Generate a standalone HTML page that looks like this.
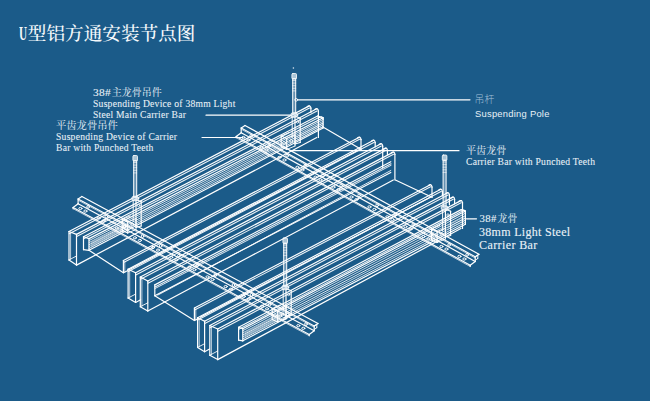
<!DOCTYPE html>
<html><head><meta charset="utf-8"><title>U型铝方通安装节点图</title>
<style>
html,body{margin:0;padding:0;background:#1b5b89;}
body{width:650px;height:401px;position:relative;overflow:hidden;font-family:"Liberation Serif","Noto Serif CJK SC",serif;}
.t,.s,.a{position:absolute;white-space:nowrap;color:#e9f1f7;}
.t{font-family:"Liberation Serif","Noto Serif CJK SC",serif;}
.s{font-family:"Liberation Serif","Noto Serif CJK SC",serif;font-size:10px;line-height:13px;}
.u{display:inline-block;width:9.2px;transform:scaleX(0.6);transform-origin:0 50%;letter-spacing:0;font-weight:bold}
.n{letter-spacing:0.3px;margin-right:0.8px;-webkit-text-stroke:0.1px #e9f1f7}
.e{font-size:9.6px;letter-spacing:0.25px;-webkit-text-stroke:0.08px #e9f1f7}
.a{font-family:"Liberation Sans","Noto Sans CJK SC",sans-serif;font-size:9.4px;line-height:13px;letter-spacing:0.25px}
svg{position:absolute;left:0;top:0}
</style></head><body>
<svg width="650" height="401" viewBox="0 0 650 401" fill="none" stroke="#ffffff" stroke-width="1.0" stroke-linecap="round">
<line x1="69.0" y1="231.5" x2="69.0" y2="259.9" stroke-width="1.2"/>
<line x1="69.0" y1="231.5" x2="309.3" y2="105.9" stroke-width="1.2"/>
<line x1="69.2" y1="233.7" x2="309.5" y2="108.1" stroke-width="1.08" stroke-opacity="0.92"/>
<line x1="76.5" y1="234.4" x2="76.5" y2="265.1" stroke-width="1.2"/>
<line x1="76.5" y1="234.4" x2="316.8" y2="108.8" stroke-width="1.2"/>
<line x1="76.7" y1="236.6" x2="317.0" y2="111.0" stroke-width="1.08" stroke-opacity="0.92"/>
<line x1="76.5" y1="265.1" x2="316.8" y2="137.5" stroke-width="1.2"/>
<line x1="128.1" y1="269.2" x2="128.1" y2="298.0" stroke-width="1.2"/>
<line x1="128.1" y1="269.2" x2="373.6" y2="140.3" stroke-width="1.2"/>
<line x1="128.3" y1="271.4" x2="373.8" y2="142.5" stroke-width="1.08" stroke-opacity="0.92"/>
<line x1="135.6" y1="272.7" x2="135.6" y2="302.4" stroke-width="1.2"/>
<line x1="135.6" y1="272.7" x2="381.1" y2="143.8" stroke-width="1.2"/>
<line x1="135.8" y1="274.9" x2="381.3" y2="146.0" stroke-width="1.08" stroke-opacity="0.92"/>
<line x1="140.3" y1="277.0" x2="140.3" y2="306.7" stroke-width="1.2"/>
<line x1="140.3" y1="277.0" x2="385.8" y2="148.1" stroke-width="1.2"/>
<line x1="140.5" y1="279.2" x2="386.0" y2="150.3" stroke-width="1.08" stroke-opacity="0.92"/>
<line x1="147.8" y1="281.0" x2="147.8" y2="311.0" stroke-width="1.2"/>
<line x1="147.8" y1="281.0" x2="393.3" y2="152.1" stroke-width="1.2"/>
<line x1="148.0" y1="283.2" x2="393.5" y2="154.3" stroke-width="1.08" stroke-opacity="0.92"/>
<line x1="147.8" y1="311.0" x2="393.3" y2="180.0" stroke-width="1.2"/>
<line x1="197.6" y1="317.7" x2="197.6" y2="347.4" stroke-width="1.2"/>
<line x1="197.6" y1="317.7" x2="440.8" y2="189.3" stroke-width="1.2"/>
<line x1="197.8" y1="319.9" x2="441.0" y2="191.5" stroke-width="1.08" stroke-opacity="0.92"/>
<line x1="204.6" y1="321.2" x2="204.6" y2="351.7" stroke-width="1.2"/>
<line x1="204.6" y1="321.2" x2="447.8" y2="192.8" stroke-width="1.2"/>
<line x1="204.8" y1="323.4" x2="448.0" y2="195.0" stroke-width="1.08" stroke-opacity="0.92"/>
<line x1="209.8" y1="325.5" x2="209.8" y2="355.2" stroke-width="1.2"/>
<line x1="209.8" y1="325.5" x2="453.0" y2="197.1" stroke-width="1.2"/>
<line x1="210.0" y1="327.7" x2="453.2" y2="199.3" stroke-width="1.08" stroke-opacity="0.92"/>
<line x1="217.7" y1="329.0" x2="217.7" y2="359.6" stroke-width="1.2"/>
<line x1="217.7" y1="329.0" x2="460.9" y2="200.6" stroke-width="1.2"/>
<line x1="217.9" y1="331.2" x2="461.1" y2="202.8" stroke-width="1.08" stroke-opacity="0.92"/>
<line x1="217.7" y1="359.6" x2="460.9" y2="228.5" stroke-width="1.2"/>
<line x1="69.0" y1="259.9" x2="76.5" y2="265.1" stroke-width="1.2"/>
<line x1="69.0" y1="231.5" x2="76.5" y2="234.4" stroke-width="1.2"/>
<line x1="70.6" y1="233.1" x2="70.6" y2="259.5" stroke-width="0.84" stroke-opacity="0.85"/>
<line x1="69.0" y1="259.9" x2="76.5" y2="256.0" stroke-width="0.96" stroke-opacity="0.9"/>
<line x1="318.4" y1="110.8" x2="318.4" y2="137.5" stroke-width="1.2"/>
<line x1="310.9" y1="107.9" x2="310.9" y2="112.4" stroke-width="1.2"/>
<line x1="128.1" y1="298.0" x2="135.6" y2="302.4" stroke-width="1.2"/>
<line x1="128.1" y1="269.2" x2="135.6" y2="272.7" stroke-width="1.2"/>
<line x1="129.7" y1="270.8" x2="129.7" y2="297.6" stroke-width="0.84" stroke-opacity="0.85"/>
<line x1="128.1" y1="298.0" x2="135.6" y2="294.1" stroke-width="0.96" stroke-opacity="0.9"/>
<line x1="135.6" y1="302.4" x2="140.6" y2="299.8" stroke-width="1.08"/>
<line x1="382.7" y1="145.8" x2="382.7" y2="167.8" stroke-width="1.2"/>
<line x1="375.2" y1="142.3" x2="375.2" y2="146.8" stroke-width="1.2"/>
<line x1="140.3" y1="306.7" x2="147.8" y2="311.0" stroke-width="1.2"/>
<line x1="140.3" y1="277.0" x2="147.8" y2="281.0" stroke-width="1.2"/>
<line x1="141.9" y1="278.6" x2="141.9" y2="306.3" stroke-width="0.84" stroke-opacity="0.85"/>
<line x1="140.3" y1="306.7" x2="147.8" y2="302.8" stroke-width="0.96" stroke-opacity="0.9"/>
<line x1="394.9" y1="154.1" x2="394.9" y2="180.0" stroke-width="1.2"/>
<line x1="387.4" y1="150.1" x2="387.4" y2="154.6" stroke-width="1.2"/>
<line x1="197.6" y1="347.4" x2="204.6" y2="351.7" stroke-width="1.2"/>
<line x1="197.6" y1="317.7" x2="204.6" y2="321.2" stroke-width="1.2"/>
<line x1="199.2" y1="319.3" x2="199.2" y2="347.0" stroke-width="0.84" stroke-opacity="0.85"/>
<line x1="197.6" y1="347.4" x2="204.6" y2="343.7" stroke-width="0.96" stroke-opacity="0.9"/>
<line x1="204.6" y1="351.7" x2="209.6" y2="349.1" stroke-width="1.08"/>
<line x1="449.4" y1="194.8" x2="449.4" y2="204.8" stroke-width="1.2"/>
<line x1="442.4" y1="191.3" x2="442.4" y2="195.8" stroke-width="1.2"/>
<line x1="209.8" y1="355.2" x2="217.7" y2="359.6" stroke-width="1.2"/>
<line x1="209.8" y1="325.5" x2="217.7" y2="329.0" stroke-width="1.2"/>
<line x1="211.4" y1="327.1" x2="211.4" y2="354.8" stroke-width="0.84" stroke-opacity="0.85"/>
<line x1="209.8" y1="355.2" x2="217.7" y2="351.0" stroke-width="0.96" stroke-opacity="0.9"/>
<line x1="462.5" y1="202.6" x2="462.5" y2="228.5" stroke-width="1.2"/>
<line x1="454.6" y1="199.1" x2="454.6" y2="203.6" stroke-width="1.2"/>
<line x1="123.4" y1="260.5" x2="123.4" y2="272.7" stroke-width="1.2"/>
<line x1="124.8" y1="261.3" x2="124.8" y2="272.4" stroke-width="0.84" stroke-opacity="0.85"/>
<line x1="89.0" y1="250.3" x2="123.4" y2="272.7" stroke-width="1.2"/>
<line x1="123.4" y1="260.5" x2="359.4" y2="137.3" stroke-width="1.2"/>
<line x1="123.6" y1="262.5" x2="359.6" y2="139.3" stroke-width="1.08" stroke-opacity="0.92"/>
<line x1="123.4" y1="272.7" x2="127.9" y2="270.4" stroke-width="1.08"/>
<line x1="129.4" y1="269.5" x2="359.4" y2="149.5" stroke-width="1.2"/>
<line x1="361.0" y1="139.3" x2="361.0" y2="149.5" stroke-width="1.2"/>
<line x1="194.4" y1="308.0" x2="194.4" y2="320.5" stroke-width="1.2"/>
<line x1="195.8" y1="308.8" x2="195.8" y2="320.2" stroke-width="0.84" stroke-opacity="0.85"/>
<line x1="154.8" y1="295.7" x2="194.4" y2="320.5" stroke-width="1.2"/>
<line x1="194.4" y1="308.0" x2="430.4" y2="184.8" stroke-width="1.2"/>
<line x1="194.6" y1="310.0" x2="430.6" y2="186.8" stroke-width="1.08" stroke-opacity="0.92"/>
<line x1="194.4" y1="320.5" x2="198.9" y2="318.2" stroke-width="1.08"/>
<line x1="200.4" y1="317.3" x2="430.4" y2="197.3" stroke-width="1.2"/>
<line x1="154.8" y1="284.9" x2="154.8" y2="295.7" stroke-width="1.2"/>
<line x1="154.8" y1="284.9" x2="390.8" y2="161.7" stroke-width="1.2"/>
<line x1="155.0" y1="286.9" x2="391.0" y2="163.7" stroke-width="1.08" stroke-opacity="0.92"/>
<line x1="155.1" y1="288.5" x2="391.1" y2="165.3" stroke-width="0.96" stroke-opacity="0.9"/>
<line x1="154.8" y1="295.7" x2="390.8" y2="172.5" stroke-width="1.2"/>
<line x1="157.8" y1="295.1" x2="390.8" y2="170.5" stroke-width="0.96" stroke-opacity="0.9"/>
<line x1="432.0" y1="186.8" x2="432.0" y2="197.3" stroke-width="1.2"/>
<line x1="322.5" y1="126.8" x2="361.0" y2="149.3" stroke-width="1.2"/>
<line x1="395.4" y1="180.0" x2="432.0" y2="197.2" stroke-width="1.2"/>
<line x1="83.5" y1="236.8" x2="83.5" y2="249.7" stroke-width="1.2"/>
<line x1="83.5" y1="249.7" x2="89.0" y2="250.3" stroke-width="1.2"/>
<line x1="89.0" y1="250.3" x2="89.0" y2="238.6" stroke-width="1.2"/>
<line x1="89.0" y1="238.6" x2="83.5" y2="236.8" stroke-width="1.2"/>
<line x1="83.5" y1="236.8" x2="317.6" y2="116.0" stroke-width="1.2"/>
<line x1="83.7" y1="238.8" x2="317.8" y2="117.9" stroke-width="1.08" stroke-opacity="0.92"/>
<line x1="89.0" y1="238.6" x2="323.1" y2="117.8" stroke-width="1.2"/>
<line x1="89.0" y1="250.3" x2="323.1" y2="128.0" stroke-width="1.2"/>
<line x1="89.0" y1="240.6" x2="323.1" y2="119.5" stroke-width="0.96" stroke-opacity="0.9"/>
<line x1="89.0" y1="242.6" x2="323.1" y2="121.3" stroke-width="0.84" stroke-opacity="0.85"/>
<line x1="89.0" y1="244.7" x2="323.1" y2="123.1" stroke-width="0.96" stroke-opacity="0.9"/>
<line x1="89.0" y1="246.6" x2="323.1" y2="124.7" stroke-width="0.84" stroke-opacity="0.85"/>
<line x1="89.0" y1="248.5" x2="323.1" y2="126.5" stroke-width="0.96" stroke-opacity="0.9"/>
<line x1="91.3" y1="242.4" x2="126.5" y2="224.3" stroke-width="0.78" stroke-opacity="0.65"/>
<line x1="295.0" y1="137.3" x2="323.1" y2="122.8" stroke-width="0.78" stroke-opacity="0.65"/>
<line x1="91.3" y1="244.4" x2="126.5" y2="226.3" stroke-width="0.78" stroke-opacity="0.65"/>
<line x1="295.0" y1="139.3" x2="323.1" y2="124.8" stroke-width="0.78" stroke-opacity="0.65"/>
<line x1="91.3" y1="246.4" x2="126.5" y2="228.3" stroke-width="0.78" stroke-opacity="0.65"/>
<line x1="295.0" y1="141.3" x2="323.1" y2="126.8" stroke-width="0.78" stroke-opacity="0.65"/>
<line x1="317.6" y1="116.0" x2="323.1" y2="117.8" stroke-width="1.2"/>
<line x1="323.1" y1="117.8" x2="323.1" y2="128.0" stroke-width="1.2"/>
<line x1="238.6" y1="327.3" x2="238.6" y2="340.2" stroke-width="1.2"/>
<line x1="238.6" y1="340.2" x2="242.8" y2="340.8" stroke-width="1.2"/>
<line x1="242.8" y1="340.8" x2="242.8" y2="328.7" stroke-width="1.2"/>
<line x1="242.8" y1="328.7" x2="238.6" y2="327.3" stroke-width="1.2"/>
<line x1="238.6" y1="327.3" x2="461.2" y2="209.6" stroke-width="1.2"/>
<line x1="238.8" y1="329.3" x2="461.4" y2="211.5" stroke-width="1.08" stroke-opacity="0.92"/>
<line x1="242.8" y1="328.7" x2="465.4" y2="211.0" stroke-width="1.2"/>
<line x1="242.8" y1="340.8" x2="465.4" y2="224.3" stroke-width="1.2"/>
<line x1="242.8" y1="330.7" x2="465.4" y2="213.2" stroke-width="0.96" stroke-opacity="0.9"/>
<line x1="242.8" y1="332.8" x2="465.4" y2="215.5" stroke-width="0.84" stroke-opacity="0.85"/>
<line x1="242.8" y1="335.0" x2="465.4" y2="217.9" stroke-width="0.96" stroke-opacity="0.9"/>
<line x1="242.8" y1="336.9" x2="465.4" y2="220.0" stroke-width="0.84" stroke-opacity="0.85"/>
<line x1="242.8" y1="339.0" x2="465.4" y2="222.3" stroke-width="0.96" stroke-opacity="0.9"/>
<line x1="245.0" y1="332.7" x2="278.4" y2="315.1" stroke-width="0.78" stroke-opacity="0.65"/>
<line x1="447.6" y1="225.6" x2="465.4" y2="216.2" stroke-width="0.78" stroke-opacity="0.65"/>
<line x1="245.0" y1="334.8" x2="278.4" y2="317.1" stroke-width="0.78" stroke-opacity="0.65"/>
<line x1="447.6" y1="227.7" x2="465.4" y2="218.3" stroke-width="0.78" stroke-opacity="0.65"/>
<line x1="245.0" y1="336.8" x2="278.4" y2="319.2" stroke-width="0.78" stroke-opacity="0.65"/>
<line x1="447.6" y1="229.7" x2="465.4" y2="220.3" stroke-width="0.78" stroke-opacity="0.65"/>
<line x1="461.2" y1="209.6" x2="465.4" y2="211.0" stroke-width="1.2"/>
<line x1="465.4" y1="211.0" x2="465.4" y2="224.3" stroke-width="1.2"/>
<line x1="81.9" y1="196.5" x2="318.0" y2="323.5" stroke-width="1.2"/>
<line x1="78.1" y1="199.0" x2="314.2" y2="326.0" stroke-width="1.2"/>
<line x1="78.1" y1="203.7" x2="314.2" y2="330.7" stroke-width="1.2"/>
<line x1="73.1" y1="207.5" x2="309.2" y2="334.5" stroke-width="1.2"/>
<line x1="78.1" y1="200.2" x2="314.2" y2="327.2" stroke-width="0.84" stroke-opacity="0.8"/>
<line x1="73.1" y1="208.7" x2="309.2" y2="335.7" stroke-width="0.84" stroke-opacity="0.8"/>
<line x1="81.9" y1="196.5" x2="78.1" y2="199.0" stroke-width="1.2"/>
<line x1="78.1" y1="199.0" x2="78.1" y2="203.7" stroke-width="1.2"/>
<line x1="78.1" y1="203.7" x2="73.1" y2="207.5" stroke-width="1.2"/>
<line x1="73.1" y1="207.5" x2="73.1" y2="208.7" stroke-width="1.2"/>
<line x1="318.0" y1="323.5" x2="314.2" y2="326.0" stroke-width="1.2"/>
<line x1="314.2" y1="326.0" x2="314.2" y2="330.7" stroke-width="1.2"/>
<line x1="314.2" y1="330.7" x2="309.2" y2="334.5" stroke-width="1.2"/>
<line x1="309.2" y1="334.5" x2="309.2" y2="335.7" stroke-width="1.2"/>
<line x1="314.2" y1="326.0" x2="316.8" y2="324.4" stroke-width="0.96"/>
<line x1="316.8" y1="324.4" x2="316.8" y2="327.7" stroke-width="0.96"/>
<line x1="316.8" y1="327.7" x2="314.2" y2="329.5" stroke-width="0.96"/>
<line x1="245.0" y1="125.5" x2="479.0" y2="254.3" stroke-width="1.2"/>
<line x1="241.2" y1="128.0" x2="475.2" y2="256.8" stroke-width="1.2"/>
<line x1="241.2" y1="132.7" x2="475.2" y2="261.5" stroke-width="1.2"/>
<line x1="236.2" y1="136.5" x2="470.2" y2="265.3" stroke-width="1.2"/>
<line x1="241.2" y1="129.2" x2="475.2" y2="258.0" stroke-width="0.84" stroke-opacity="0.8"/>
<line x1="236.2" y1="137.7" x2="470.2" y2="266.5" stroke-width="0.84" stroke-opacity="0.8"/>
<line x1="245.0" y1="125.5" x2="241.2" y2="128.0" stroke-width="1.2"/>
<line x1="241.2" y1="128.0" x2="241.2" y2="132.7" stroke-width="1.2"/>
<line x1="241.2" y1="132.7" x2="236.2" y2="136.5" stroke-width="1.2"/>
<line x1="236.2" y1="136.5" x2="236.2" y2="137.7" stroke-width="1.2"/>
<line x1="479.0" y1="254.3" x2="475.2" y2="256.8" stroke-width="1.2"/>
<line x1="475.2" y1="256.8" x2="475.2" y2="261.5" stroke-width="1.2"/>
<line x1="475.2" y1="261.5" x2="470.2" y2="265.3" stroke-width="1.2"/>
<line x1="470.2" y1="265.3" x2="470.2" y2="266.5" stroke-width="1.2"/>
<line x1="475.2" y1="256.8" x2="477.8" y2="255.2" stroke-width="0.96"/>
<line x1="477.8" y1="255.2" x2="477.8" y2="258.5" stroke-width="0.96"/>
<line x1="477.8" y1="258.5" x2="475.2" y2="260.3" stroke-width="0.96"/>
<line x1="133.7" y1="162.5" x2="136.7" y2="162.5" stroke-width="0.72" stroke-opacity="0.9"/>
<line x1="133.7" y1="165.1" x2="136.7" y2="165.1" stroke-width="0.72" stroke-opacity="0.9"/>
<line x1="133.7" y1="167.7" x2="136.7" y2="167.7" stroke-width="0.72" stroke-opacity="0.9"/>
<line x1="133.7" y1="170.3" x2="136.7" y2="170.3" stroke-width="0.72" stroke-opacity="0.9"/>
<line x1="133.7" y1="172.9" x2="136.7" y2="172.9" stroke-width="0.72" stroke-opacity="0.9"/>
<line x1="136.0" y1="199.5" x2="141.2" y2="201.7" stroke-width="1.2"/>
<line x1="141.2" y1="201.7" x2="141.2" y2="226.0" stroke-width="1.2"/>
<line x1="141.2" y1="226.0" x2="136.0" y2="227.5" stroke-width="1.2"/>
<line x1="136.0" y1="227.5" x2="136.0" y2="199.5" stroke-width="1.2"/>
<line x1="133.2" y1="200.5" x2="133.2" y2="221.5" stroke-width="0.96"/>
<line x1="122.2" y1="219.5" x2="122.2" y2="230.5" stroke-width="1.2"/>
<line x1="122.2" y1="230.5" x2="127.7" y2="233.0" stroke-width="1.2"/>
<line x1="127.7" y1="233.0" x2="127.7" y2="222.0" stroke-width="1.2"/>
<line x1="127.7" y1="222.0" x2="122.2" y2="219.5" stroke-width="1.2"/>
<line x1="127.7" y1="222.0" x2="136.0" y2="218.5" stroke-width="0.96"/>
<line x1="136.0" y1="218.5" x2="136.0" y2="229.5" stroke-width="0.96"/>
<line x1="136.0" y1="229.5" x2="127.7" y2="233.0" stroke-width="0.96"/>
<line x1="122.2" y1="219.5" x2="130.2" y2="216.0" stroke-width="0.96"/>
<line x1="292.7" y1="80.5" x2="295.7" y2="80.5" stroke-width="0.72" stroke-opacity="0.9"/>
<line x1="292.7" y1="83.1" x2="295.7" y2="83.1" stroke-width="0.72" stroke-opacity="0.9"/>
<line x1="292.7" y1="85.7" x2="295.7" y2="85.7" stroke-width="0.72" stroke-opacity="0.9"/>
<line x1="292.7" y1="88.3" x2="295.7" y2="88.3" stroke-width="0.72" stroke-opacity="0.9"/>
<line x1="292.7" y1="90.9" x2="295.7" y2="90.9" stroke-width="0.72" stroke-opacity="0.9"/>
<line x1="295.0" y1="116.0" x2="300.2" y2="118.2" stroke-width="1.2"/>
<line x1="300.2" y1="118.2" x2="300.2" y2="142.5" stroke-width="1.2"/>
<line x1="300.2" y1="142.5" x2="295.0" y2="144.0" stroke-width="1.2"/>
<line x1="295.0" y1="144.0" x2="295.0" y2="116.0" stroke-width="1.2"/>
<line x1="292.2" y1="117.0" x2="292.2" y2="138.0" stroke-width="0.96"/>
<line x1="281.2" y1="136.0" x2="281.2" y2="147.0" stroke-width="1.2"/>
<line x1="281.2" y1="147.0" x2="286.7" y2="149.5" stroke-width="1.2"/>
<line x1="286.7" y1="149.5" x2="286.7" y2="138.5" stroke-width="1.2"/>
<line x1="286.7" y1="138.5" x2="281.2" y2="136.0" stroke-width="1.2"/>
<line x1="286.7" y1="138.5" x2="295.0" y2="135.0" stroke-width="0.96"/>
<line x1="295.0" y1="135.0" x2="295.0" y2="146.0" stroke-width="0.96"/>
<line x1="295.0" y1="146.0" x2="286.7" y2="149.5" stroke-width="0.96"/>
<line x1="281.2" y1="136.0" x2="289.2" y2="132.5" stroke-width="0.96"/>
<line x1="443.1" y1="162.0" x2="446.1" y2="162.0" stroke-width="0.72" stroke-opacity="0.9"/>
<line x1="443.1" y1="164.6" x2="446.1" y2="164.6" stroke-width="0.72" stroke-opacity="0.9"/>
<line x1="443.1" y1="167.2" x2="446.1" y2="167.2" stroke-width="0.72" stroke-opacity="0.9"/>
<line x1="443.1" y1="169.8" x2="446.1" y2="169.8" stroke-width="0.72" stroke-opacity="0.9"/>
<line x1="443.1" y1="172.4" x2="446.1" y2="172.4" stroke-width="0.72" stroke-opacity="0.9"/>
<line x1="445.4" y1="209.0" x2="450.6" y2="211.2" stroke-width="1.2"/>
<line x1="450.6" y1="211.2" x2="450.6" y2="235.5" stroke-width="1.2"/>
<line x1="450.6" y1="235.5" x2="445.4" y2="237.0" stroke-width="1.2"/>
<line x1="445.4" y1="237.0" x2="445.4" y2="209.0" stroke-width="1.2"/>
<line x1="442.6" y1="210.0" x2="442.6" y2="231.0" stroke-width="0.96"/>
<line x1="431.6" y1="229.0" x2="431.6" y2="240.0" stroke-width="1.2"/>
<line x1="431.6" y1="240.0" x2="437.1" y2="242.5" stroke-width="1.2"/>
<line x1="437.1" y1="242.5" x2="437.1" y2="231.5" stroke-width="1.2"/>
<line x1="437.1" y1="231.5" x2="431.6" y2="229.0" stroke-width="1.2"/>
<line x1="437.1" y1="231.5" x2="445.4" y2="228.0" stroke-width="0.96"/>
<line x1="445.4" y1="228.0" x2="445.4" y2="239.0" stroke-width="0.96"/>
<line x1="445.4" y1="239.0" x2="437.1" y2="242.5" stroke-width="0.96"/>
<line x1="431.6" y1="229.0" x2="439.6" y2="225.5" stroke-width="0.96"/>
<line x1="283.7" y1="245.0" x2="286.7" y2="245.0" stroke-width="0.72" stroke-opacity="0.9"/>
<line x1="283.7" y1="247.6" x2="286.7" y2="247.6" stroke-width="0.72" stroke-opacity="0.9"/>
<line x1="283.7" y1="250.2" x2="286.7" y2="250.2" stroke-width="0.72" stroke-opacity="0.9"/>
<line x1="283.7" y1="252.8" x2="286.7" y2="252.8" stroke-width="0.72" stroke-opacity="0.9"/>
<line x1="283.7" y1="255.4" x2="286.7" y2="255.4" stroke-width="0.72" stroke-opacity="0.9"/>
<line x1="286.0" y1="288.5" x2="291.2" y2="290.7" stroke-width="1.2"/>
<line x1="291.2" y1="290.7" x2="291.2" y2="315.0" stroke-width="1.2"/>
<line x1="291.2" y1="315.0" x2="286.0" y2="316.5" stroke-width="1.2"/>
<line x1="286.0" y1="316.5" x2="286.0" y2="288.5" stroke-width="1.2"/>
<line x1="283.2" y1="289.5" x2="283.2" y2="310.5" stroke-width="0.96"/>
<line x1="272.2" y1="308.5" x2="272.2" y2="319.5" stroke-width="1.2"/>
<line x1="272.2" y1="319.5" x2="277.7" y2="322.0" stroke-width="1.2"/>
<line x1="277.7" y1="322.0" x2="277.7" y2="311.0" stroke-width="1.2"/>
<line x1="277.7" y1="311.0" x2="272.2" y2="308.5" stroke-width="1.2"/>
<line x1="277.7" y1="311.0" x2="286.0" y2="307.5" stroke-width="0.96"/>
<line x1="286.0" y1="307.5" x2="286.0" y2="318.5" stroke-width="0.96"/>
<line x1="286.0" y1="318.5" x2="277.7" y2="322.0" stroke-width="0.96"/>
<line x1="272.2" y1="308.5" x2="280.2" y2="305.0" stroke-width="0.96"/>
<line x1="206.0" y1="115.2" x2="290.0" y2="115.2" stroke-width="1.2"/>
<line x1="202.0" y1="137.5" x2="243.0" y2="137.5" stroke-width="1.2"/>
<line x1="297.5" y1="99.8" x2="470.0" y2="99.8" stroke-width="1.2"/>
<line x1="290.0" y1="150.7" x2="459.0" y2="150.7" stroke-width="1.2"/>
<line x1="466.5" y1="218.8" x2="476.5" y2="218.8" stroke-width="1.2"/>
<path d="M314.8 109.4 Q318.0 107.4 318.4 111.2" stroke-width="1.20"/>
<path d="M307.3 106.5 Q310.5 104.5 310.9 108.3" stroke-width="1.20"/>
<path d="M379.1 144.4 Q382.3 142.4 382.7 146.2" stroke-width="1.20"/>
<path d="M371.6 140.9 Q374.8 138.9 375.2 142.7" stroke-width="1.20"/>
<path d="M391.3 152.7 Q394.5 150.7 394.9 154.5" stroke-width="1.20"/>
<path d="M383.8 148.7 Q387.0 146.7 387.4 150.5" stroke-width="1.20"/>
<path d="M445.8 193.4 Q449.0 191.4 449.4 195.2" stroke-width="1.20"/>
<path d="M438.8 189.9 Q442.0 187.9 442.4 191.7" stroke-width="1.20"/>
<path d="M458.9 201.2 Q462.1 199.2 462.5 203.0" stroke-width="1.20"/>
<path d="M451.0 197.7 Q454.2 195.7 454.6 199.5" stroke-width="1.20"/>
<path d="M357.4 137.9 Q360.6 135.9 361.0 139.7" stroke-width="1.20"/>
<path d="M428.4 185.4 Q431.6 183.4 432.0 187.2" stroke-width="1.20"/>
<path d="M319.5 117.6 Q322.7 115.6 323.1 119.4" stroke-width="1.20"/>
<path d="M461.8 210.8 Q465.0 208.8 465.4 212.6" stroke-width="1.20"/>
<ellipse cx="88.1" cy="206.9" rx="1.3" ry="1.4" stroke-width="1.0"/>
<ellipse cx="80.4" cy="208.5" rx="1.6" ry="1.1" stroke-width="1.0"/>
<ellipse cx="85.4" cy="211.1" rx="1.6" ry="1.1" stroke-width="1.0"/>
<ellipse cx="106.3" cy="216.6" rx="1.3" ry="1.4" stroke-width="1.0"/>
<ellipse cx="98.6" cy="218.2" rx="1.6" ry="1.1" stroke-width="1.0"/>
<ellipse cx="103.6" cy="220.8" rx="1.6" ry="1.1" stroke-width="1.0"/>
<ellipse cx="124.4" cy="226.4" rx="1.3" ry="1.4" stroke-width="1.0"/>
<ellipse cx="116.7" cy="228.0" rx="1.6" ry="1.1" stroke-width="1.0"/>
<ellipse cx="121.7" cy="230.6" rx="1.6" ry="1.1" stroke-width="1.0"/>
<ellipse cx="142.6" cy="236.2" rx="1.3" ry="1.4" stroke-width="1.0"/>
<ellipse cx="134.9" cy="237.8" rx="1.6" ry="1.1" stroke-width="1.0"/>
<ellipse cx="139.9" cy="240.4" rx="1.6" ry="1.1" stroke-width="1.0"/>
<ellipse cx="160.7" cy="245.9" rx="1.3" ry="1.4" stroke-width="1.0"/>
<ellipse cx="153.0" cy="247.5" rx="1.6" ry="1.1" stroke-width="1.0"/>
<ellipse cx="158.0" cy="250.1" rx="1.6" ry="1.1" stroke-width="1.0"/>
<ellipse cx="178.9" cy="255.7" rx="1.3" ry="1.4" stroke-width="1.0"/>
<ellipse cx="171.2" cy="257.3" rx="1.6" ry="1.1" stroke-width="1.0"/>
<ellipse cx="176.2" cy="259.9" rx="1.6" ry="1.1" stroke-width="1.0"/>
<ellipse cx="197.1" cy="265.5" rx="1.3" ry="1.4" stroke-width="1.0"/>
<ellipse cx="189.4" cy="267.1" rx="1.6" ry="1.1" stroke-width="1.0"/>
<ellipse cx="194.4" cy="269.7" rx="1.6" ry="1.1" stroke-width="1.0"/>
<ellipse cx="215.2" cy="275.3" rx="1.3" ry="1.4" stroke-width="1.0"/>
<ellipse cx="207.5" cy="276.9" rx="1.6" ry="1.1" stroke-width="1.0"/>
<ellipse cx="212.5" cy="279.5" rx="1.6" ry="1.1" stroke-width="1.0"/>
<ellipse cx="233.4" cy="285.0" rx="1.3" ry="1.4" stroke-width="1.0"/>
<ellipse cx="225.7" cy="286.6" rx="1.6" ry="1.1" stroke-width="1.0"/>
<ellipse cx="230.7" cy="289.2" rx="1.6" ry="1.1" stroke-width="1.0"/>
<ellipse cx="251.5" cy="294.8" rx="1.3" ry="1.4" stroke-width="1.0"/>
<ellipse cx="243.8" cy="296.4" rx="1.6" ry="1.1" stroke-width="1.0"/>
<ellipse cx="248.8" cy="299.0" rx="1.6" ry="1.1" stroke-width="1.0"/>
<ellipse cx="269.7" cy="304.6" rx="1.3" ry="1.4" stroke-width="1.0"/>
<ellipse cx="262.0" cy="306.2" rx="1.6" ry="1.1" stroke-width="1.0"/>
<ellipse cx="267.0" cy="308.8" rx="1.6" ry="1.1" stroke-width="1.0"/>
<ellipse cx="287.9" cy="314.3" rx="1.3" ry="1.4" stroke-width="1.0"/>
<ellipse cx="280.2" cy="315.9" rx="1.6" ry="1.1" stroke-width="1.0"/>
<ellipse cx="285.2" cy="318.5" rx="1.6" ry="1.1" stroke-width="1.0"/>
<ellipse cx="306.0" cy="324.1" rx="1.3" ry="1.4" stroke-width="1.0"/>
<ellipse cx="298.3" cy="325.7" rx="1.6" ry="1.1" stroke-width="1.0"/>
<ellipse cx="303.3" cy="328.3" rx="1.6" ry="1.1" stroke-width="1.0"/>
<ellipse cx="251.1" cy="135.9" rx="1.3" ry="1.4" stroke-width="1.0"/>
<ellipse cx="243.4" cy="137.5" rx="1.6" ry="1.1" stroke-width="1.0"/>
<ellipse cx="248.4" cy="140.1" rx="1.6" ry="1.1" stroke-width="1.0"/>
<ellipse cx="269.1" cy="145.9" rx="1.3" ry="1.4" stroke-width="1.0"/>
<ellipse cx="261.4" cy="147.5" rx="1.6" ry="1.1" stroke-width="1.0"/>
<ellipse cx="266.4" cy="150.1" rx="1.6" ry="1.1" stroke-width="1.0"/>
<ellipse cx="287.1" cy="155.8" rx="1.3" ry="1.4" stroke-width="1.0"/>
<ellipse cx="279.4" cy="157.4" rx="1.6" ry="1.1" stroke-width="1.0"/>
<ellipse cx="284.4" cy="160.0" rx="1.6" ry="1.1" stroke-width="1.0"/>
<ellipse cx="305.1" cy="165.7" rx="1.3" ry="1.4" stroke-width="1.0"/>
<ellipse cx="297.4" cy="167.3" rx="1.6" ry="1.1" stroke-width="1.0"/>
<ellipse cx="302.4" cy="169.9" rx="1.6" ry="1.1" stroke-width="1.0"/>
<ellipse cx="323.1" cy="175.6" rx="1.3" ry="1.4" stroke-width="1.0"/>
<ellipse cx="315.4" cy="177.2" rx="1.6" ry="1.1" stroke-width="1.0"/>
<ellipse cx="320.4" cy="179.8" rx="1.6" ry="1.1" stroke-width="1.0"/>
<ellipse cx="341.1" cy="185.5" rx="1.3" ry="1.4" stroke-width="1.0"/>
<ellipse cx="333.4" cy="187.1" rx="1.6" ry="1.1" stroke-width="1.0"/>
<ellipse cx="338.4" cy="189.7" rx="1.6" ry="1.1" stroke-width="1.0"/>
<ellipse cx="359.1" cy="195.4" rx="1.3" ry="1.4" stroke-width="1.0"/>
<ellipse cx="351.4" cy="197.0" rx="1.6" ry="1.1" stroke-width="1.0"/>
<ellipse cx="356.4" cy="199.6" rx="1.6" ry="1.1" stroke-width="1.0"/>
<ellipse cx="377.1" cy="205.3" rx="1.3" ry="1.4" stroke-width="1.0"/>
<ellipse cx="369.4" cy="206.9" rx="1.6" ry="1.1" stroke-width="1.0"/>
<ellipse cx="374.4" cy="209.5" rx="1.6" ry="1.1" stroke-width="1.0"/>
<ellipse cx="395.1" cy="215.2" rx="1.3" ry="1.4" stroke-width="1.0"/>
<ellipse cx="387.4" cy="216.8" rx="1.6" ry="1.1" stroke-width="1.0"/>
<ellipse cx="392.4" cy="219.4" rx="1.6" ry="1.1" stroke-width="1.0"/>
<ellipse cx="413.1" cy="225.1" rx="1.3" ry="1.4" stroke-width="1.0"/>
<ellipse cx="405.4" cy="226.7" rx="1.6" ry="1.1" stroke-width="1.0"/>
<ellipse cx="410.4" cy="229.3" rx="1.6" ry="1.1" stroke-width="1.0"/>
<ellipse cx="431.1" cy="235.0" rx="1.3" ry="1.4" stroke-width="1.0"/>
<ellipse cx="423.4" cy="236.6" rx="1.6" ry="1.1" stroke-width="1.0"/>
<ellipse cx="428.4" cy="239.2" rx="1.6" ry="1.1" stroke-width="1.0"/>
<ellipse cx="449.1" cy="244.9" rx="1.3" ry="1.4" stroke-width="1.0"/>
<ellipse cx="441.4" cy="246.5" rx="1.6" ry="1.1" stroke-width="1.0"/>
<ellipse cx="446.4" cy="249.1" rx="1.6" ry="1.1" stroke-width="1.0"/>
<ellipse cx="467.1" cy="254.8" rx="1.3" ry="1.4" stroke-width="1.0"/>
<ellipse cx="459.4" cy="256.4" rx="1.6" ry="1.1" stroke-width="1.0"/>
<ellipse cx="464.4" cy="259.0" rx="1.6" ry="1.1" stroke-width="1.0"/>
<rect x="133.7" y="160.5" width="3" height="37.0" fill="#dbe8f2" fill-opacity="0.38" stroke-width="1.0"/>
<rect x="132.9" y="155.5" width="4.6" height="5.5" rx="1" fill="#dbe8f2" fill-opacity="0.75" stroke-width="0.8"/>
<ellipse cx="135.2" cy="198.5" rx="3.6" ry="2.4" fill="#dbe8f2" fill-opacity="0.65" stroke-width="0.8"/>
<circle cx="125.0" cy="226.5" r="1.5" stroke-width="0.8"/>
<circle cx="132.2" cy="224.5" r="1.5" stroke-width="0.8"/>
<circle cx="138.6" cy="205.5" r="1.2" stroke-width="0.8"/>
<rect x="292.7" y="78.5" width="3" height="35.5" fill="#dbe8f2" fill-opacity="0.38" stroke-width="1.0"/>
<rect x="291.9" y="73.5" width="4.6" height="5.5" rx="1" fill="#dbe8f2" fill-opacity="0.75" stroke-width="0.8"/>
<ellipse cx="294.2" cy="115.0" rx="3.6" ry="2.4" fill="#dbe8f2" fill-opacity="0.65" stroke-width="0.8"/>
<circle cx="284.0" cy="143.0" r="1.5" stroke-width="0.8"/>
<circle cx="291.2" cy="141.0" r="1.5" stroke-width="0.8"/>
<circle cx="297.6" cy="122.0" r="1.2" stroke-width="0.8"/>
<rect x="443.1" y="160.0" width="3" height="47.0" fill="#dbe8f2" fill-opacity="0.38" stroke-width="1.0"/>
<rect x="442.3" y="155.0" width="4.6" height="5.5" rx="1" fill="#dbe8f2" fill-opacity="0.75" stroke-width="0.8"/>
<ellipse cx="444.6" cy="208.0" rx="3.6" ry="2.4" fill="#dbe8f2" fill-opacity="0.65" stroke-width="0.8"/>
<circle cx="434.4" cy="236.0" r="1.5" stroke-width="0.8"/>
<circle cx="441.6" cy="234.0" r="1.5" stroke-width="0.8"/>
<circle cx="448.0" cy="215.0" r="1.2" stroke-width="0.8"/>
<rect x="283.7" y="243.0" width="3" height="43.5" fill="#dbe8f2" fill-opacity="0.38" stroke-width="1.0"/>
<rect x="282.9" y="238.0" width="4.6" height="5.5" rx="1" fill="#dbe8f2" fill-opacity="0.75" stroke-width="0.8"/>
<ellipse cx="285.2" cy="287.5" rx="3.6" ry="2.4" fill="#dbe8f2" fill-opacity="0.65" stroke-width="0.8"/>
<circle cx="275.0" cy="315.5" r="1.5" stroke-width="0.8"/>
<circle cx="282.2" cy="313.5" r="1.5" stroke-width="0.8"/>
<circle cx="288.6" cy="294.5" r="1.2" stroke-width="0.8"/>
<circle cx="293.4" cy="68" r="0.8" fill="#dbe8f2" stroke="none"/>
<circle cx="296.2" cy="99.8" r="1.4" stroke-width="0.8"/>
</svg>

<div class="t" style="left:18.6px;top:21px;font-size:18.6px;line-height:26px;color:#f4f8fb;letter-spacing:0.03px;font-weight:500"><span class="u">U</span>型铝方通安装节点图</div>
<div class="s" style="left:93px;top:86px;font-size:10px"><span class="n" style="font-size:11.4px">38#</span>主龙骨吊件</div>
<div class="s e" style="left:93px;top:97px">Suspending Device of 38mm Light</div>
<div class="s e" style="left:93px;top:108px">Steel Main Carrier Bar</div>
<div class="s" style="left:56px;top:118.5px;font-size:10.3px">平齿龙骨吊件</div>
<div class="s e" style="left:56px;top:129.5px">Suspending Device of Carrier</div>
<div class="s e" style="left:56px;top:141px">Bar with Punched Teeth</div>
<div class="s" style="left:474.6px;top:92.5px;font-size:9.8px;color:#a3c0d8;font-family:'Liberation Sans','Noto Sans CJK SC',sans-serif;font-weight:300">吊杆</div>
<div class="a" style="left:475px;top:107px">Suspending Pole</div>
<div class="s" style="left:466px;top:144.3px;font-size:10.1px">平齿龙骨</div>
<div class="s e" style="left:466px;top:155px">Carrier Bar with Punched Teeth</div>
<div class="s" style="left:479.6px;top:212px;font-size:9.9px"><span class="n" style="font-size:10.8px">38#</span>龙骨</div>
<div class="s" style="left:479px;top:225.5px;font-size:12px;letter-spacing:0.3px;-webkit-text-stroke:0.12px #e9f1f7">38mm Light Steel</div>
<div class="s" style="left:479px;top:238.5px;font-size:12px;letter-spacing:0.4px;-webkit-text-stroke:0.12px #e9f1f7">Carrier Bar</div>

</body></html>
